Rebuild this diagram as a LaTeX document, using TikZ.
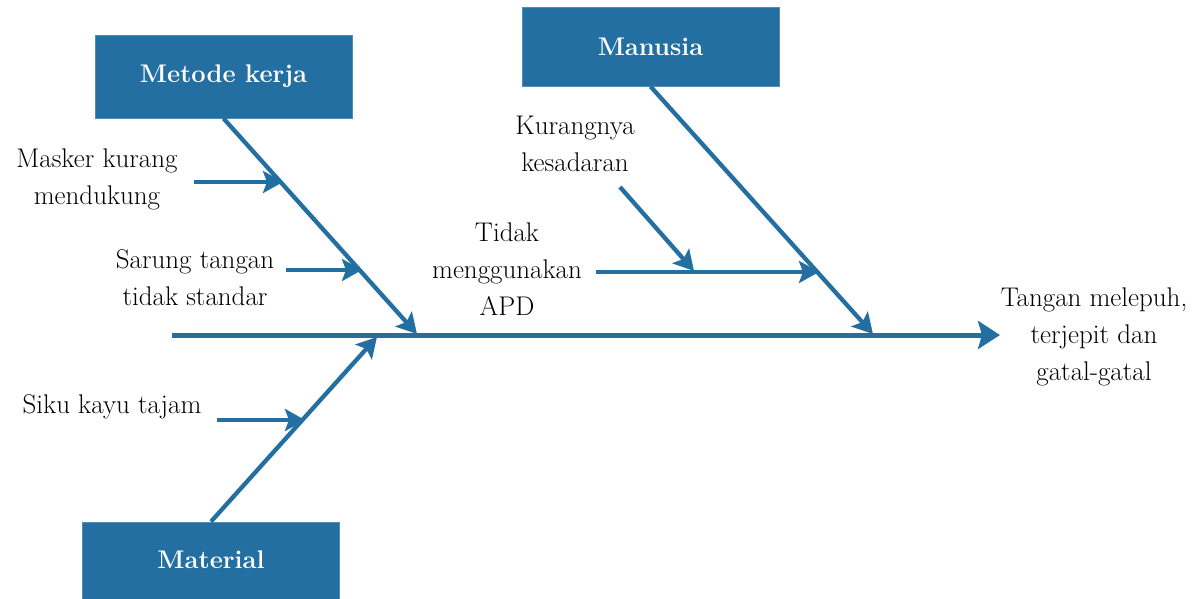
\documentclass[tikz,border=0pt]{standalone}
\usetikzlibrary{arrows.meta}
\definecolor{fbblue}{RGB}{36,111,161}
\tikzset{
  catbox/.style={draw=fbblue!80!white, line width=0.8pt, fill=fbblue, text=white, font=\fontsize{25.5}{30}\selectfont\bfseries,
    minimum width=257pt, inner sep=0pt},
  lbl/.style={align=center, font=\fontsize{27}{37}\selectfont, inner sep=0pt, text=black},
  bone/.style={draw=fbblue, line width=4.3pt, -{Stealth[length=20pt,width=22pt,inset=4pt]}},
  spine/.style={draw=fbblue, line width=5pt, -{Stealth[length=22pt,width=28pt,inset=4pt]}}
}
\begin{document}
\begin{tikzpicture}[x=1pt,y=-1pt]
\useasboundingbox (0,0) rectangle (1195,598);
% category boxes
\node[catbox, minimum height=83pt] (metode) at (223.5,76.5) {Metode kerja};
\node[catbox, minimum height=79pt] (manusia) at (650.5,46.5) {Manusia};
\node[catbox, minimum height=84pt] (material) at (211,564) {};
\node[font=\fontsize{25.5}{30}\selectfont\bfseries, text=white, inner sep=0pt] (materialtxt) at (211,560) {Material};
% spine
\coordinate (sstart) at (172,335);
\coordinate (send) at (1000,335);
\coordinate (jmetode) at (417,334);
\coordinate (jmanusia) at (873,334);
\coordinate (jmaterial) at (377,337);
\draw[spine] (sstart) -- (send);
\node[lbl] (effect) at (1094,337) {Tangan melepuh,\\terjepit dan\\gatal-gatal};
% main bones
\draw[bone] (metode.south) -- (jmetode);
\draw[bone] (manusia.south) -- (jmanusia);
\draw[bone] (material.north) -- (jmaterial);
% Metode kerja causes
\coordinate (m1s) at (194,182);
\coordinate (m1e) at (283,182);
\coordinate (m2s) at (286,270);
\coordinate (m2e) at (362,270);
\draw[bone] (m1s) -- (m1e);
\draw[bone] (m2s) -- (m2e);
\node[lbl] (masker) at (97,179) {Masker kurang\\mendukung};
\node[lbl] (sarung) at (195,278) {Sarung tangan\\tidak standar};
% Manusia causes
\coordinate (h1s) at (596,272);
\coordinate (h1e) at (819,272);
\coordinate (h2s) at (620,187);
\coordinate (h2e) at (694,271);
\draw[bone] (h1s) -- (h1e);
\draw[bone] (h2s) -- (h2e);
\node[lbl] (kurang) at (575,144) {Kurangnya\\kesadaran};
\node[lbl] (tidak) at (507,269) {Tidak\\menggunakan\\APD};
% Material causes
\coordinate (t1s) at (217,420);
\coordinate (t1e) at (305,420);
\draw[bone] (t1s) -- (t1e);
\node[lbl] (siku) at (112,407) {Siku kayu tajam};
\end{tikzpicture}
\end{document}
